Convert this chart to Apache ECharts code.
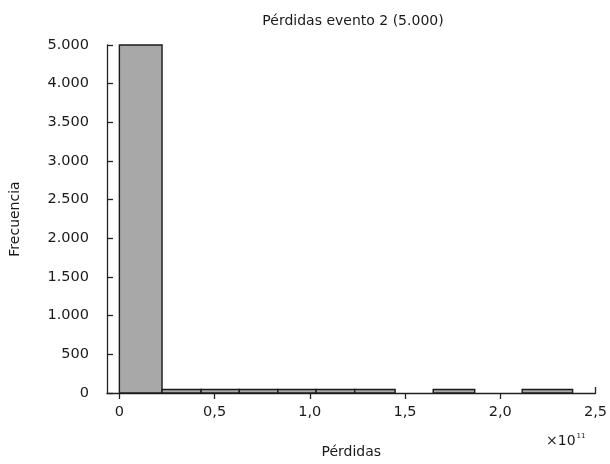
<!DOCTYPE html>
<html><head><meta charset="utf-8">
<script src="https://cdn.jsdelivr.net/npm/echarts@6/dist/echarts.min.js"></script>
<style>html,body{margin:0;padding:0;background:#fff}#c{width:610px;height:464px}</style>
</head><body><div id="c"></div>
<script>
// Histogram bins (x in units of 1e11)
const binStart = [0, 0.224, 0.429, 0.630, 0.832, 1.033, 1.236, 1.648, 2.115];
const binEnd   = [0.224, 0.429, 0.630, 0.832, 1.033, 1.236, 1.448, 1.866, 2.380];
// frequencies in axis units (top tick is labelled "5.000" in the original)
const freq     = [4500, 45, 45, 45, 45, 45, 45, 45, 45];
const xTickValues = [0, 0.5, 1.0, 1.5, 2.0, 2.5];
const xTickLabels = ['0', '0,5', '1,0', '1,5', '2,0', '2,5'];
const yTickValues = [0, 500, 1000, 1500, 2000, 2500, 3000, 3500, 4000, 4500];
const yTickLabels = ['0', '500', '1.000', '1.500', '2.000', '2.500', '3.000', '3.500', '4.000', '5.000'];

const FONT = 'DejaVu Sans';
const TXT = '#1a1a1a';
const data = binStart.map((s, i) => [s, binEnd[i], freq[i]]);

const chart = echarts.init(document.getElementById('c'), null, {renderer: 'canvas'});
chart.setOption({
  animation: false,
  textStyle: {fontFamily: FONT},
  title: [
    {text: 'Pérdidas evento 2 (5.000)', left: 348, top: 9, textAlign: 'center',
     textStyle: {fontFamily: FONT, fontSize: 14, fontWeight: 'normal', color: TXT}},
    {text: '{a|×10}{b|11}', left: 541, top: 428,
     textStyle: {fontWeight: 'normal', rich: {
       a: {fontFamily: FONT, fontSize: 14, fontWeight: 'normal', color: TXT},
       b: {fontFamily: FONT, fontSize: 7, fontWeight: 'normal', color: TXT, padding: [0, 0, 9, 1]}
     }}}
  ],
  grid: {left: 107, right: 12, top: 45, bottom: 68, containLabel: false},
  xAxis: [{
    type: 'value', min: -0.065, max: 2.5,
    splitLine: {show: false},
    axisLine: {show: true, onZero: false, lineStyle: {color: '#222', width: 1.3}},
    axisTick: {show: true, inside: false, length: 6, customValues: xTickValues.slice(0, 5),
               lineStyle: {color: '#222', width: 1.3}},
    axisLabel: {customValues: xTickValues, margin: 12, fontSize: 14.5, color: TXT, fontFamily: FONT,
      formatter: v => { const i = xTickValues.findIndex(t => Math.abs(t - v) < 1e-9); return i >= 0 ? xTickLabels[i] : ''; }},
    name: 'Pérdidas', nameLocation: 'middle', nameGap: 52,
    nameTextStyle: {fontSize: 14, color: TXT, fontFamily: FONT}
  }, {
    type: 'value', min: -0.065, max: 2.5, position: 'bottom',
    splitLine: {show: false}, axisLine: {show: false},
    axisTick: {show: true, inside: true, length: 6, customValues: [2.5], lineStyle: {color: '#222', width: 1.3}},
    axisLabel: {show: false}
  }],
  yAxis: {
    type: 'value', min: 0, max: 4500, interval: 500,
    splitLine: {show: false},
    axisLine: {show: true, onZero: false, lineStyle: {color: '#222', width: 1.3}},
    axisTick: {show: true, inside: true, length: 6, lineStyle: {color: '#222', width: 1.3}},
    axisLabel: {margin: 18, fontSize: 14.5, color: TXT, fontFamily: FONT,
      formatter: v => { const i = yTickValues.indexOf(v); return i >= 0 ? yTickLabels[i] : ''; }},
    name: 'Frecuencia', nameLocation: 'middle', nameGap: 85, nameRotate: 90,
    nameTextStyle: {fontSize: 14, color: TXT, fontFamily: FONT}
  },
  series: [{
    type: 'custom',
    xAxisIndex: 0, yAxisIndex: 0,
    data: data,
    encode: {x: [0, 1], y: 2},
    renderItem: function (params, api) {
      const p0 = api.coord([api.value(0), 0]);
      const p1 = api.coord([api.value(1), api.value(2)]);
      return {type: 'rect',
        shape: {x: p0[0], y: p1[1], width: p1[0] - p0[0], height: p0[1] - p1[1]},
        style: {fill: '#a8a8a8', stroke: '#1a1a1a', lineWidth: 1.4}};
    }
  }]
});
</script></body></html>
